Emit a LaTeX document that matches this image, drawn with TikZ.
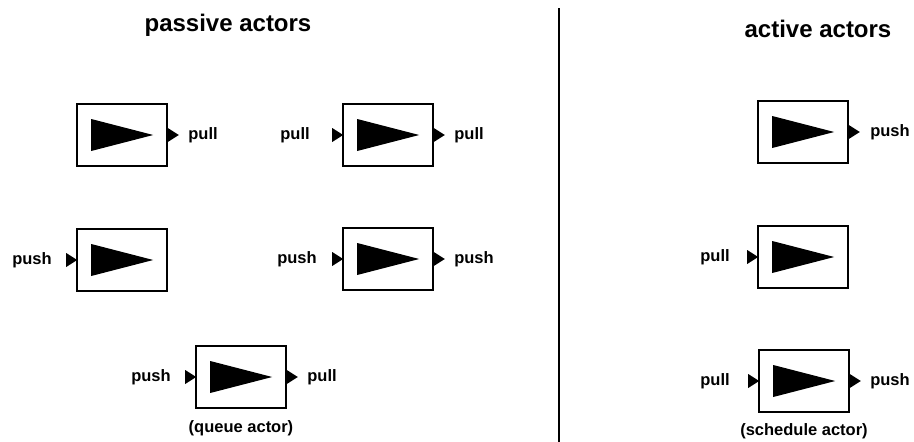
\documentclass[tikz,border=0pt]{standalone}
\usepackage{fontspec}
\setmainfont{Liberation Sans}
\newcommand{\actorarrow}[1]{\fill (#1.west) ++(15,-16) -- ++(0,32) -- ++(62,-16) -- cycle;}
\newcommand{\inport}[1]{\fill (#1.west) ++(-10,-7) -- ++(0,14) -- ++(11,-7) -- cycle;}
\newcommand{\outport}[1]{\fill (#1.east) ++(0,-7) -- ++(0,14) -- ++(11,-7) -- cycle;}
\begin{document}
\begin{tikzpicture}[x=1pt,y=-1pt,
                    actor/.style={draw,line width=1.6pt,minimum width=90pt,minimum height=62pt,inner sep=0pt},
                    portlabel/.style={anchor=mid,inner sep=0pt,yshift=-2pt,font=\fontsize{16.5}{19}\selectfont\bfseries},
                    title/.style={anchor=base,inner sep=0pt,font=\fontsize{24}{28}\selectfont\bfseries}]
\useasboundingbox (0,0) rectangle (914,442);
\node[title] (passive) at (228,31) {passive actors};
\node[title] (active) at (818,37) {active actors};
\draw[line width=1.6pt] (559,8) -- (559,442);
% passive actors
\node[actor] (b1) at (122,135) {};
\node[actor] (b2) at (388,135) {};
\node[actor] (b3) at (122,260) {};
\node[actor] (b4) at (388,259) {};
\node[actor] (b5) at (241,377) {};
% active actors
\node[actor] (r1) at (803,132) {};
\node[actor] (r2) at (803,257) {};
\node[actor] (r3) at (804,381) {};
\foreach \b in {b1,b2,b3,b4,b5,r1,r2,r3} {\actorarrow{\b}}
\foreach \b in {b2,b3,b4,b5,r2,r3} {\inport{\b}}
\foreach \b in {b1,b2,b4,b5,r1,r3} {\outport{\b}}
\node[portlabel] (b1out) at (203,135) {pull};
\node[portlabel] (b2in) at (295,135) {pull};
\node[portlabel] (b2out) at (469,135) {pull};
\node[portlabel] (b3in) at (32,260) {push};
\node[portlabel] (b4in) at (297,259) {push};
\node[portlabel] (b4out) at (474,259) {push};
\node[portlabel] (b5in) at (151,377) {push};
\node[portlabel] (b5out) at (322,377) {pull};
\node[portlabel] (r1out) at (890,132) {push};
\node[portlabel] (r2in) at (715,257) {pull};
\node[portlabel] (r3in) at (715,381) {pull};
\node[portlabel] (r3out) at (890,381) {push};
\node[portlabel] (queue) at (241,428) {(queue actor)};
\node[portlabel] (sched) at (804,431) {(schedule actor)};
\end{tikzpicture}
\end{document}
